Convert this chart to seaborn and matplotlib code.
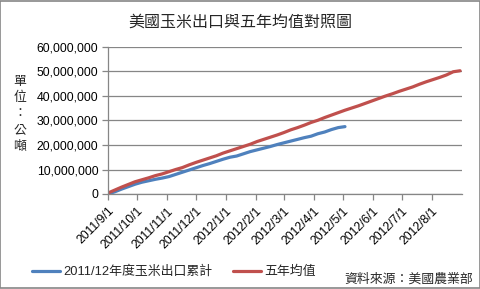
import matplotlib
matplotlib.use("Agg")
import matplotlib.pyplot as plt
import matplotlib.dates as mdates
import seaborn as sns
import pandas as pd
from matplotlib.patches import Rectangle

title = "美國玉米出口與五年均值對照圖"
ylabel = "單位：公噸"
source = "資料來源：美國農業部"
series_blue = "2011/12年度玉米出口累計"
series_red = "五年均值"

# weekly cumulative values (million tonnes), starting 2011/9/1
red_values = [0.4, 1.6, 2.8, 3.9, 5.0, 5.8, 6.6, 7.5, 8.2, 9.1,
              10.0, 10.8, 11.9, 12.9, 13.8, 14.7, 15.6, 16.7, 17.6, 18.5,
              19.4, 20.3, 21.4, 22.3, 23.2, 24.1, 25.1, 26.2, 27.1, 28.1,
              29.2, 30.1, 31.2, 32.2, 33.2, 34.2, 35.1, 36.0, 37.0, 38.0,
              39.0, 40.0, 40.9, 41.9, 42.8, 43.7, 44.8, 45.8, 46.7, 47.6,
              48.6, 49.9, 50.3]
blue_values = [0.0, 0.9, 2.0, 3.0, 4.0, 4.8, 5.4, 6.0, 6.5, 7.1,
               8.0, 8.9, 9.8, 10.7, 11.6, 12.4, 13.3, 14.2, 15.0, 15.5,
               16.4, 17.3, 18.0, 18.7, 19.4, 20.2, 20.9, 21.6, 22.3, 23.0,
               23.6, 24.6, 25.3, 26.3, 27.1, 27.5]
yticks = [0, 10_000_000, 20_000_000, 30_000_000, 40_000_000, 50_000_000, 60_000_000]
ytick_labels = ["0", "10,000,000", "20,000,000", "30,000,000", "40,000,000",
                "50,000,000", "60,000,000"]
xtick_dates = ["2011-09-01", "2011-10-01", "2011-11-01", "2011-12-01", "2012-01-01",
               "2012-02-01", "2012-03-01", "2012-04-01", "2012-05-01", "2012-06-01",
               "2012-07-01", "2012-08-01"]
xtick_labels = ["2011/9/1", "2011/10/1", "2011/11/1", "2011/12/1", "2012/1/1",
                "2012/2/1", "2012/3/1", "2012/4/1", "2012/5/1", "2012/6/1",
                "2012/7/1", "2012/8/1"]

sns.set_style("white")
plt.rcParams['font.family'] = ['Liberation Sans', 'Noto Sans CJK TC', 'DejaVu Sans']

red_dates = pd.date_range("2011-09-01", periods=len(red_values), freq="7D")
blue_dates = pd.date_range("2011-09-01", periods=len(blue_values), freq="7D")
df = pd.concat([
    pd.DataFrame({"date": blue_dates, "value": [v * 1e6 for v in blue_values], "series": series_blue}),
    pd.DataFrame({"date": red_dates, "value": [v * 1e6 for v in red_values], "series": series_red}),
])

fig = plt.figure(figsize=(4.81, 2.89), dpi=100)
ax = fig.add_axes([108 / 481, 1 - 194 / 289, (462 - 108) / 481, (194 - 47) / 289])

sns.lineplot(data=df, x="date", y="value", hue="series", ax=ax,
             palette={series_blue: "#4F81BD", series_red: "#C0504D"},
             linewidth=2.3, legend=False)

ax.set_xlim(pd.Timestamp("2011-09-01"), pd.Timestamp("2012-09-01"))
ax.set_ylim(0, 60_000_000)
ax.set_yticks(yticks)
ax.set_yticklabels(ytick_labels, fontsize=8.8)
ax.set_xticks([pd.Timestamp(d) for d in xtick_dates])
ax.set_xticklabels(xtick_labels, rotation=45, ha="right", rotation_mode="anchor", fontsize=8.8)
ax.set_xlabel("")
ax.set_ylabel("")
ax.grid(axis="y", color="#868686", linewidth=0.9)
ax.grid(axis="x", visible=False)
for s in ["top", "right"]:
    ax.spines[s].set_visible(False)
for s in ["left", "bottom"]:
    ax.spines[s].set_color("#868686")
    ax.spines[s].set_linewidth(0.9)
ax.tick_params(axis="both", which="major", length=4, width=0.9, color="#868686",
               direction="out", pad=3, labelcolor="black")
ax.tick_params(axis="x", pad=4)
ax.yaxis.set_ticks_position("left")
ax.xaxis.set_ticks_position("bottom")

fig.text(240 / 481, 1 - 22 / 289, title, ha="center", va="center", fontsize=11.5,
         family=['Noto Sans CJK TC', 'DejaVu Sans'])
fig.text(20 / 481, 1 - 114 / 289, "\n".join(ylabel), ha="center", va="center",
         fontsize=9.3, linespacing=1.3, family=['Noto Sans CJK TC', 'DejaVu Sans'])
fig.text(473 / 481, 1 - 279 / 289, source, ha="right", va="center", fontsize=9.3,
         family=['Noto Sans CJK TC', 'DejaVu Sans'])

from matplotlib.lines import Line2D
handles = [Line2D([], [], color="#4F81BD", linewidth=2.3),
           Line2D([], [], color="#C0504D", linewidth=2.3)]
leg = fig.legend(handles, [series_blue, series_red], ncol=2, frameon=False,
                 loc="center left", bbox_to_anchor=(32 / 481, 1 - 272 / 289),
                 fontsize=9.3, handlelength=2.2, handletextpad=0.2,
                 columnspacing=1.6, borderaxespad=0, borderpad=0)

fig.patches.append(Rectangle((0.001, 0.002), 0.997, 0.996, transform=fig.transFigure,
                             fill=False, edgecolor="#868686", linewidth=1.2))

fig.savefig("out.png", dpi=100)
